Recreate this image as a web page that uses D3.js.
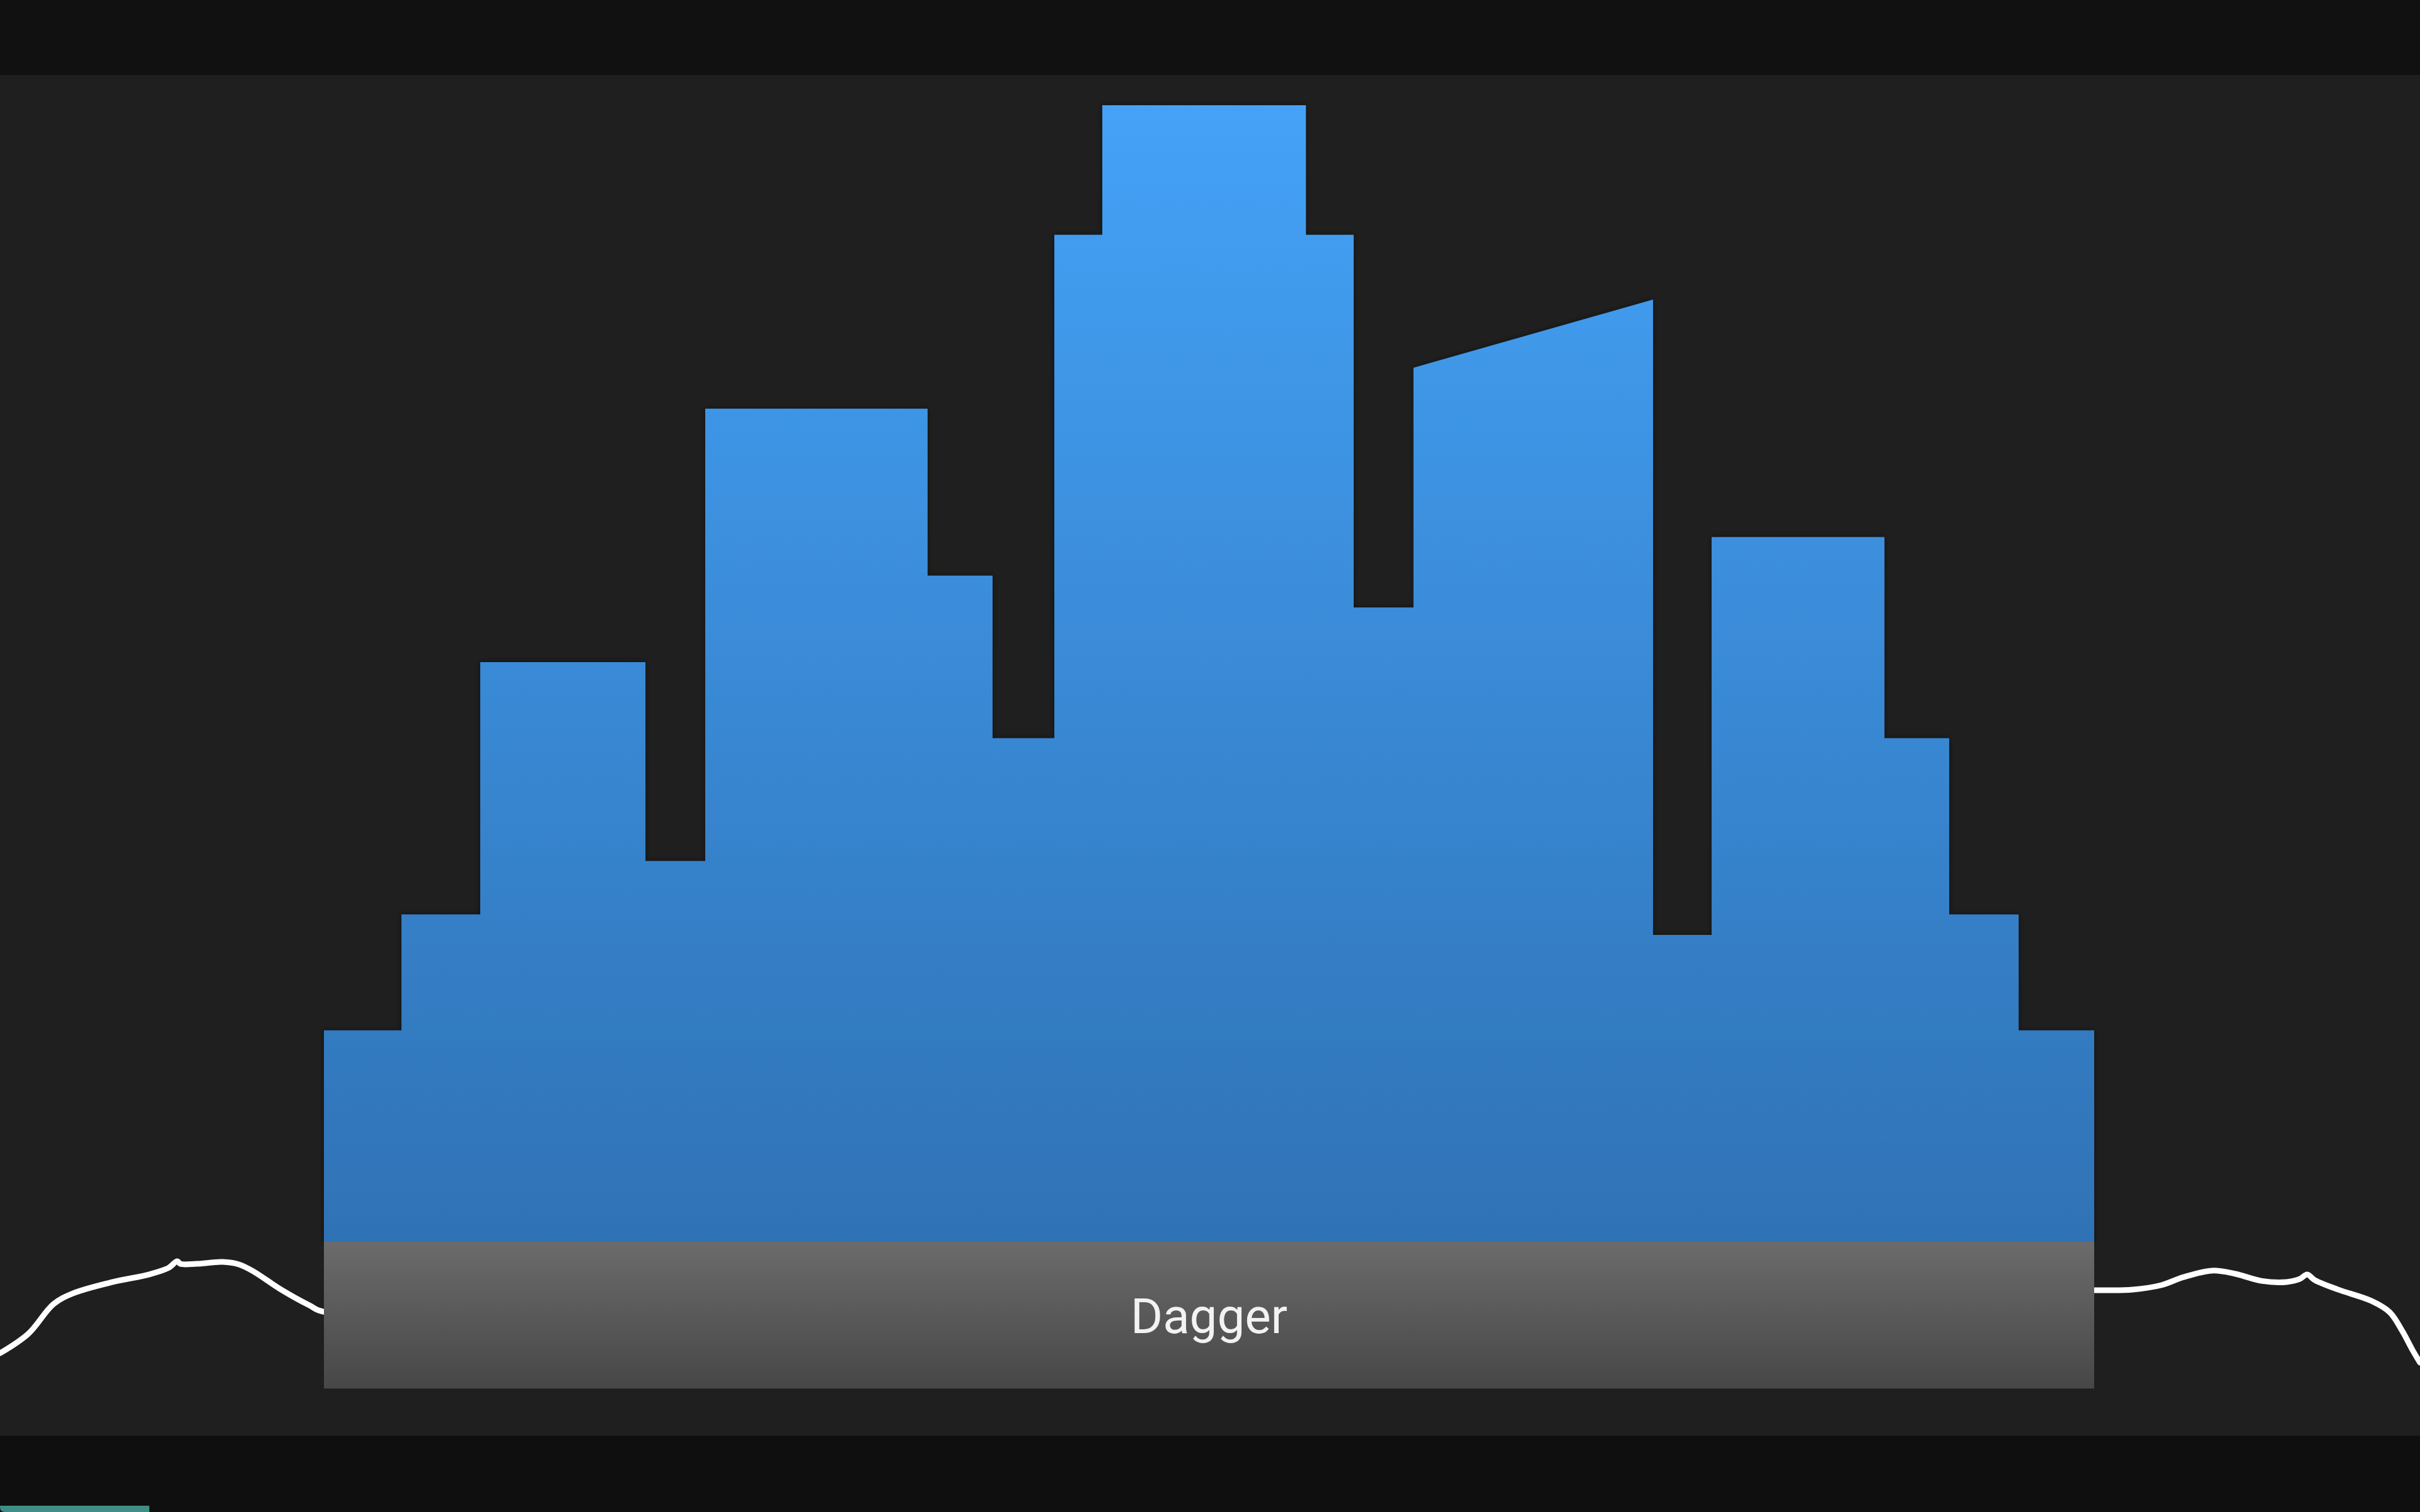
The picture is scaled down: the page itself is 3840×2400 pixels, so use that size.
<!DOCTYPE html>
<html>
<head>
  <meta charset="utf-8">
  <title>Dagger</title>
  <style>
    html, body {margin: 0; padding: 0; background: #1f1f1f;}
    svg {display: block; font-family: Roboto, "Noto Sans", sans-serif;}
  </style>
</head>
<body>
  <script src="https://cdn.jsdelivr.net/npm/d3@7/dist/d3.min.js"></script>

  <div id="scene"></div>

  <script>
    // skyline: step edges along the bar (0..100), and the roof height at the
    // left and right end of each step (0..100, tallest = 100)
    var edges = [0, 4.38, 8.83, 18.16, 21.54, 34.10, 37.77, 41.26, 43.97, 55.47,
                 58.17, 61.55, 75.08, 78.39, 88.15, 91.81, 95.73, 100];
    var roofLeft  = [18.6, 28.8, 51.0, 33.5, 73.3, 58.6, 44.3, 88.6, 100, 88.6,
                     55.8, 76.9, 27.0, 62.0, 44.3, 28.8, 18.6];
    var roofRight = [18.6, 28.8, 51.0, 33.5, 73.3, 58.6, 44.3, 88.6, 100, 88.6,
                     55.8, 82.9, 27.0, 62.0, 44.3, 28.8, 18.6];

    // white trace behind the label (x: 0..100 of width, y: level 0..100)
    var traceX = [0, 1.17, 2.21, 3.02, 4.66, 6.17, 6.98, 7.32, 7.45, 8.13, 9.19,
                  9.87, 10.47, 11.61, 12.79, 13.36,
                  86.56, 88.13, 89.30, 90.23, 91.41, 92.37, 93.44, 94.48, 95.03,
                  95.34, 95.65, 96.61, 97.99, 98.75, 99.27, 99.69, 100];
    var traceY = [44, 54.3, 70, 75.7, 81.7, 85.7, 89.3, 92.7, 91.3, 91.3, 92.3,
                  91, 87.3, 77.7, 69.3, 66,
                  77.3, 77.7, 80, 84.3, 87.7, 86, 82.3, 81.7, 83.3,
                  85.7, 82.7, 77.7, 71.7, 65.7, 55.7, 45.7, 39];

    var label = "Dagger";

    var W = 3840, H = 2400;

    var svg = d3.select("#scene").append("svg")
      .attr("width", W)
      .attr("height", H);

    // page bands
    svg.append("rect").attr("x", 0).attr("y", 0).attr("width", W).attr("height", H)
      .attr("fill", "#1f1f1f");
    svg.append("rect").attr("x", 0).attr("y", 0).attr("width", W).attr("height", 119)
      .attr("fill", "#111111");
    svg.append("rect").attr("x", 0).attr("y", 2279).attr("width", W).attr("height", H - 2279)
      .attr("fill", "#0f0f0f");
    svg.append("path")
      .attr("d", "M0,2390 H237 V2400 H8 Q0,2400 0,2392 Z")
      .attr("fill", "#3e8e86");

    var defs = svg.append("defs");

    var blue = defs.append("linearGradient").attr("id", "blue")
      .attr("gradientUnits", "userSpaceOnUse")
      .attr("x1", 0).attr("x2", 0).attr("y1", 167).attr("y2", 1971);
    blue.append("stop").attr("offset", 0).attr("stop-color", "#44a2f7");
    blue.append("stop").attr("offset", 1).attr("stop-color", "#2f72b5");

    var gray = defs.append("linearGradient").attr("id", "gray")
      .attr("x1", 0).attr("x2", 0).attr("y1", 0).attr("y2", 1);
    gray.append("stop").attr("offset", 0).attr("stop-color", "#6b6b6b");
    gray.append("stop").attr("offset", 1).attr("stop-color", "#474747");

    var shadow = defs.append("filter").attr("id", "shadow")
      .attr("x", "-5%").attr("y", "-5%").attr("width", "110%").attr("height", "110%");
    shadow.append("feDropShadow")
      .attr("dx", 0).attr("dy", 0).attr("stdDeviation", 5)
      .attr("flood-color", "#000").attr("flood-opacity", 0.45);

    // scales
    var x = d3.scaleLinear().domain([0, 100]).range([514, 3323]);
    var y = d3.scaleLinear().domain([0, 100]).range([1971, 167]);
    var tx = d3.scaleLinear().domain([0, 100]).range([0, W]);
    var ty = d3.scaleLinear().domain([0, 100]).range([2280, 1980]);

    // white trace (drawn first, the label box hides its middle)
    var trace = traceX.map(function(v, i) { return [v, traceY[i]]; });
    svg.append("path")
      .datum(trace)
      .attr("fill", "none")
      .attr("stroke", "#ffffff")
      .attr("stroke-width", 9)
      .attr("stroke-linejoin", "round")
      .attr("stroke-linecap", "round")
      .attr("d", d3.line()
        .x(function(d) { return tx(d[0]); })
        .y(function(d) { return ty(d[1]); })
        .curve(d3.curveCatmullRom.alpha(0.5)));

    // skyline area
    var pts = [];
    for (var i = 0; i < roofLeft.length; i++) {
      pts.push([edges[i], roofLeft[i]]);
      pts.push([edges[i + 1], roofRight[i]]);
    }
    svg.append("path")
      .datum(pts)
      .attr("fill", "url(#blue)")
      .attr("filter", "url(#shadow)")
      .attr("d", d3.area()
        .x(function(d) { return x(d[0]); })
        .y0(y(0))
        .y1(function(d) { return y(d[1]); }));

    // label bar
    var bar = svg.append("g");
    bar.append("rect")
      .attr("x", x(0))
      .attr("y", y(0))
      .attr("width", x(100) - x(0))
      .attr("height", 233)
      .attr("fill", "url(#gray)");
    bar.append("text")
      .attr("x", (x(0) + x(100)) / 2)
      .attr("y", 2116)
      .attr("text-anchor", "middle")
      .attr("font-size", 78)
      .attr("fill", "#f2f2f2")
      .text(label);
  </script>
</body>
</html>
